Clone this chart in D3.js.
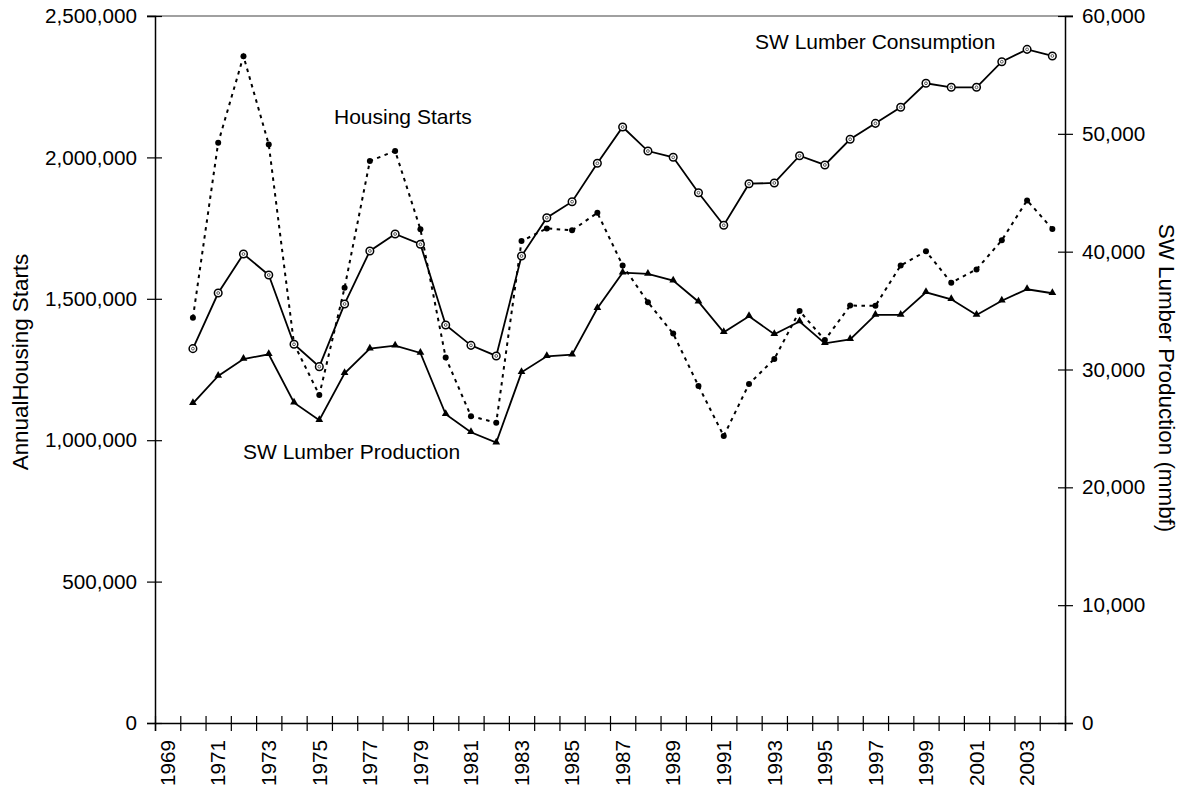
<!DOCTYPE html>
<html>
<head>
<meta charset="utf-8">
<script src="https://cdn.jsdelivr.net/npm/d3@7"></script>
<style>
  body { margin: 0; background: #fff; }
  svg text { font-family: "Liberation Sans", Arial, sans-serif; fill: #000; }
</style>
</head>
<body>
<div id="chart"></div>
<script>
// categories
const years = d3.range(1969, 2005);
const dataYears = d3.range(1970, 2005);
const yearLabels = d3.range(1969, 2005, 2);

// annual housing starts (left axis)
const housingStarts = [1433000, 2052000, 2358000, 2046000, 1340000, 1160000, 1539000, 1987000, 2023000, 1746000,
  1292000, 1085000, 1062000, 1704000, 1749000, 1742000, 1804000, 1618000, 1488000, 1377000,
  1192000, 1015000, 1199000, 1287000, 1457000, 1354000, 1476000, 1475000, 1618000, 1668000,
  1557000, 1604000, 1707000, 1848000, 1747000];

// SW lumber consumption, mmbf (right axis)
const swConsumption = [31770, 36490, 39800, 38020, 32140, 30240, 35560, 40060, 41500, 40630,
  33780, 32050, 31150, 39630, 42880, 44240, 47500, 50580, 48540, 48010,
  45000, 42240, 45770, 45830, 48140, 47360, 49540, 50890, 52250, 54290,
  53950, 53950, 56120, 57170, 56610];

// SW lumber production, mmbf (right axis)
const swProduction = [27130, 29450, 30890, 31290, 27180, 25690, 29680, 31770, 32020, 31400,
  26200, 24670, 23790, 29760, 31120, 31260, 35190, 38220, 38110, 37540,
  35750, 33160, 34520, 32990, 34070, 32220, 32560, 34630, 34630, 36550,
  35960, 34630, 35840, 36810, 36470];

const leftTicks = [0, 500000, 1000000, 1500000, 2000000, 2500000];
const rightTicks = [0, 10000, 20000, 30000, 40000, 50000, 60000];

const W = 1182, H = 791;
const margin = { top: 16, right: 117, bottom: 68, left: 155 };
const plotR = W - margin.right;   // 1065
const plotB = H - margin.bottom;  // 723

const svg = d3.select("#chart").append("svg")
    .attr("width", W)
    .attr("height", H);

// scales
const x = d3.scaleBand()
    .domain(years)
    .range([margin.left, plotR]);

const xEdge = d3.scaleLinear()
    .domain([1969, 2005])
    .range([margin.left, plotR]);

const yL = d3.scaleLinear()
    .domain([0, 2500000])
    .range([plotB, margin.top]);

const yR = d3.scaleLinear()
    .domain([0, 60000])
    .range([plotB, margin.top]);

const cx = yr => x(yr) + x.bandwidth() / 2;

// top border
svg.append("line")
    .attr("x1", margin.left - 8).attr("x2", plotR + 8)
    .attr("y1", margin.top).attr("y2", margin.top)
    .attr("stroke", "#808080").attr("stroke-width", 1.5);

// left axis
svg.append("g")
    .attr("transform", `translate(${margin.left},0)`)
    .call(d3.axisLeft(yL).tickValues(leftTicks).tickFormat(d3.format(",")).tickSize(8).tickPadding(10))
    .call(g => g.select(".domain").attr("stroke", "#000").attr("stroke-width", 1.5))
    .call(g => g.selectAll(".tick line").attr("x1", 7).attr("x2", -8).attr("stroke-width", 1.2))
    .call(g => g.selectAll(".tick text").style("font-size", "20.7px"));

// right axis
svg.append("g")
    .attr("transform", `translate(${plotR},0)`)
    .call(d3.axisRight(yR).tickValues(rightTicks).tickFormat(d3.format(",")).tickSize(8).tickPadding(9))
    .call(g => g.select(".domain").attr("stroke", "#000").attr("stroke-width", 1.5))
    .call(g => g.selectAll(".tick line").attr("x1", -7).attr("x2", 8).attr("stroke-width", 1.2))
    .call(g => g.selectAll(".tick text").style("font-size", "20.7px"));

// bottom axis: ticks at category edges
svg.append("g")
    .attr("transform", `translate(0,${plotB})`)
    .call(d3.axisBottom(xEdge).tickValues(d3.range(1969, 2006)).tickFormat("").tickSize(8))
    .call(g => g.select(".domain").attr("stroke", "#000").attr("stroke-width", 1.5))
    .call(g => g.selectAll(".tick line").attr("y1", -7).attr("y2", 8).attr("stroke-width", 1.2));

// bottom labels
svg.append("g")
    .attr("transform", `translate(0,${plotB})`)
    .call(d3.axisBottom(x).tickValues(yearLabels).tickSize(0))
    .call(g => g.select(".domain").remove())
    .call(g => g.selectAll(".tick text")
        .style("font-size", "20.7px")
        .attr("text-anchor", "end")
        .attr("transform", "rotate(-90)")
        .attr("x", -17)
        .attr("y", 0)
        .attr("dy", "0.35em"));

// axis titles
svg.append("text")
    .attr("transform", "translate(28,362) rotate(-90)")
    .attr("text-anchor", "middle")
    .style("font-size", "22.4px")
    .text("AnnualHousing Starts");

svg.append("text")
    .attr("transform", "translate(1159,378) rotate(90)")
    .attr("text-anchor", "middle")
    .style("font-size", "22.4px")
    .text("SW Lumber Production (mmbf)");

// series
const housing = dataYears.map((yr, i) => ({ yr, v: housingStarts[i] }));
const consumption = dataYears.map((yr, i) => ({ yr, v: swConsumption[i] }));
const production = dataYears.map((yr, i) => ({ yr, v: swProduction[i] }));

const lineL = d3.line().x(d => cx(d.yr)).y(d => yL(d.v));
const lineR = d3.line().x(d => cx(d.yr)).y(d => yR(d.v));

// housing starts (dotted)
svg.append("path")
    .datum(housing)
    .attr("d", lineL)
    .attr("fill", "none")
    .attr("stroke", "#000")
    .attr("stroke-width", 2)
    .attr("stroke-dasharray", "3.5,4.5");

svg.append("g")
    .selectAll("circle")
    .data(housing)
    .join("circle")
    .attr("cx", d => cx(d.yr))
    .attr("cy", d => yL(d.v))
    .attr("r", 3)
    .attr("fill", "#000");

// production (triangles)
svg.append("path")
    .datum(production)
    .attr("d", lineR)
    .attr("fill", "none")
    .attr("stroke", "#000")
    .attr("stroke-width", 1.8);

svg.append("g")
    .selectAll("path")
    .data(production)
    .join("path")
    .attr("transform", d => `translate(${cx(d.yr)},${yR(d.v) - 0.5})`)
    .attr("d", d3.symbol(d3.symbolTriangle).size(26))
    .attr("fill", "#000");

// consumption (open circles)
svg.append("path")
    .datum(consumption)
    .attr("d", lineR)
    .attr("fill", "none")
    .attr("stroke", "#000")
    .attr("stroke-width", 1.8);

const cons = svg.append("g")
    .selectAll("g")
    .data(consumption)
    .join("g")
    .attr("transform", d => `translate(${cx(d.yr)},${yR(d.v)})`);
cons.append("circle")
    .attr("r", 3.8)
    .attr("fill", "#fff")
    .attr("stroke", "#000")
    .attr("stroke-width", 1.5);
cons.append("circle")
    .attr("r", 1.4)
    .attr("fill", "none")
    .attr("stroke", "#555")
    .attr("stroke-width", 1);

// series labels
svg.append("text")
    .attr("x", 334).attr("y", 124)
    .style("font-size", "21px")
    .text("Housing Starts");

svg.append("text")
    .attr("x", 755).attr("y", 49)
    .style("font-size", "21px")
    .text("SW Lumber Consumption");

svg.append("text")
    .attr("x", 243).attr("y", 459)
    .style("font-size", "21px")
    .text("SW Lumber Production");
</script>
</body>
</html>
